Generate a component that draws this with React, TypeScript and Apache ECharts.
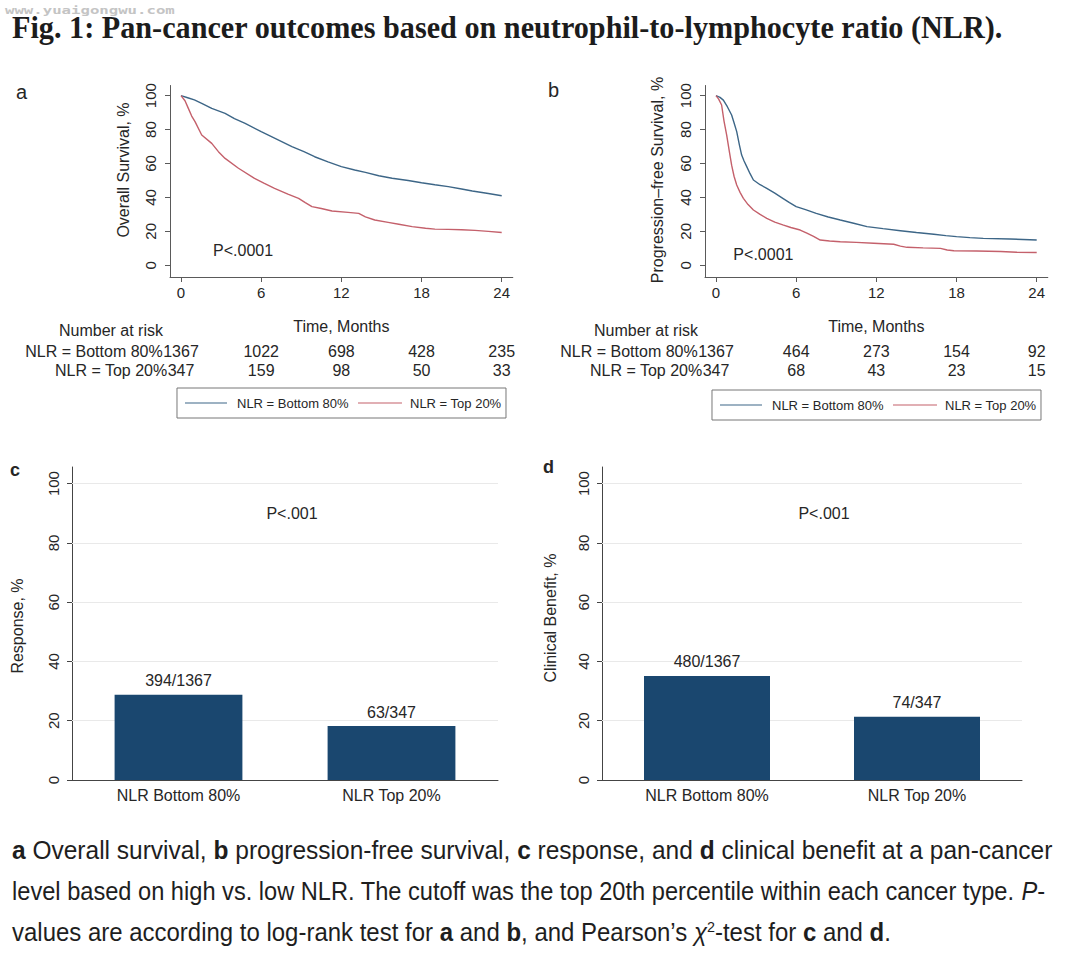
import React, { useEffect, useRef } from "react";
import * as echarts from "echarts";

// ---------------- data ----------------
const months = [0, 6, 12, 18, 24];
const pctTicks = [0, 20, 40, 60, 80, 100];

const osBottom = [[0,100],[0.5,98.8],[1.0,97.5],[1.55,95.5],[2.3,92.5],[3.3,89.6],[4.0,86.5],[4.8,83.7],[6.0,78.8],[7.0,75],[8.3,70],[9.2,67],[10.0,64],[11,61],[12.0,58.2],[13.0,56.2],[13.8,54.8],[14.8,52.8],[15.8,51.3],[17,50],[18.0,48.7],[19,47.5],[20,46.4],[21,45],[21.8,43.8],[23,42.3],[24,41]];
const osTop = [[0,100],[0.3,97],[0.55,92.5],[0.8,88],[1.05,84.7],[1.55,76.8],[2.3,71.9],[2.8,67],[3.3,63],[4.3,57.2],[5.5,51.3],[6.2,48.5],[7.0,45.4],[8,42],[8.8,39.5],[9.3,37],[9.8,34.6],[10.5,33.5],[11.3,32],[12.5,31.2],[13.3,30.6],[13.8,28.5],[14.5,26.7],[15.5,25.3],[16.3,24.2],[17.3,22.8],[18.3,21.8],[19,21.3],[20,21.2],[21,21],[22,20.6],[23,20],[24,19.3]];
const pfsBottom = [[0,100],[0.3,99],[0.55,97.4],[0.85,93.5],[1.17,88.6],[1.35,84],[1.55,78.8],[1.75,71],[1.92,65],[2.1,61.5],[2.3,58.2],[2.55,54],[2.8,50.3],[3.3,47.5],[3.8,45.4],[4.4,42.5],[5.0,39.5],[5.5,37],[6.0,34.6],[6.7,32.8],[7.5,30.6],[8.4,28.5],[9.3,26.7],[10.3,24.8],[11.3,22.8],[12.5,21.6],[13.8,20.4],[15,19.3],[16.3,18.3],[17.2,17.5],[18.0,16.9],[19,16.3],[20,15.9],[22,15.5],[24,14.9]];
const pfsTop = [[0,100],[0.2,98],[0.42,94.5],[0.6,85],[0.8,76.8],[1.0,67],[1.17,59],[1.35,52.5],[1.55,47.3],[1.8,43],[2.05,39.5],[2.4,35.8],[2.8,32.6],[3.3,30],[3.8,27.7],[4.4,25.5],[5.0,23.8],[5.6,22.3],[6.3,20.8],[6.8,19],[7.3,17],[7.8,14.9],[8.5,14.3],[9.3,13.9],[10.5,13.5],[11.8,13],[13.3,12.4],[13.8,11.3],[14.3,10.6],[15.5,10.3],[16.8,10],[17.3,9],[17.8,8.6],[19.5,8.4],[21.3,8.1],[22.5,7.7],[24,7.5]];

const riskOsBottom = [1367, 1022, 698, 428, 235];
const riskOsTop = [347, 159, 98, 50, 33];
const riskPfsBottom = [1367, 464, 273, 154, 92];
const riskPfsTop = [347, 68, 43, 23, 15];

const groupNames = ["NLR = Bottom 80%", "NLR = Top 20%"];
const barCategories = ["NLR Bottom 80%", "NLR Top 20%"];
const responseEvents = [394, 63];
const responseTotals = [1367, 347];
const responsePct = [28.8, 18.2];
const benefitEvents = [480, 74];
const benefitTotals = [1367, 347];
const benefitPct = [35.1, 21.3];

const titleText = "Fig. 1: Pan-cancer outcomes based on neutrophil-to-lymphocyte ratio (NLR).";
const captionLines = [
  ["{b|a} Overall survival, {b|b} progression-free survival, {b|c} response, and {b|d} clinical benefit at a pan-cancer",
   "a Overall survival, b progression-free survival, c response, and d clinical benefit at a pan-cancer"],
  ["level based on high vs. low NLR. The cutoff was the top 20th percentile within each cancer type. {i|P}-",
   "level based on high vs. low NLR. The cutoff was the top 20th percentile within each cancer type. P-"],
  ["values are according to log-rank test for {b|a} and {b|b}, and Pearson\u2019s {i|\u03c7}{sup|2}-test for {b|c} and {b|d}.",
   "values are according to log-rank test for a and b, and Pearson\u2019s \u03c72-test for c and d."],
];
const captionWidths = [1036, 1033, 880];

// ---------------- style ----------------
const SANS = "'Liberation Sans', Arial, Helvetica, sans-serif";
const CAPF = "'Liberation Sans Narrow', 'Liberation Sans', Arial, sans-serif";
const SERIF = "'Liberation Serif', 'DejaVu Serif', serif";
const BLUE = "#3d6687";
const RED = "#c4606b";
const NAVY = "#1a476f";
const TEXT = "#262626";
const AXIS = "#5a5a5a";

function measure(text: string, font: string): number {
  const c = document.createElement("canvas").getContext("2d");
  if (!c) return text.length * 8;
  c.font = font;
  return c.measureText(text).width;
}

function kmX(grid: number) {
  return {
    type: "value", gridIndex: grid, min: -0.823, max: 24.83,
    axisLine: { show: true, onZero: false, lineStyle: { color: AXIS, width: 1 } },
    axisTick: { show: true, customValues: months, length: 5, lineStyle: { color: AXIS } },
    axisLabel: { customValues: months, fontSize: 15, margin: 8, color: TEXT, fontFamily: SANS },
    splitLine: { show: false },
  };
}
function kmY(grid: number) {
  return {
    type: "value", gridIndex: grid, min: -6.9, max: 106,
    axisLine: { show: true, onZero: false, lineStyle: { color: AXIS, width: 1 } },
    axisTick: { show: true, customValues: pctTicks, length: 5, lineStyle: { color: AXIS } },
    axisLabel: { customValues: pctTicks, fontSize: 15, margin: 12, rotate: 90, color: TEXT, fontFamily: SANS },
    splitLine: { show: false },
  };
}
function barX(grid: number) {
  return {
    type: "category", gridIndex: grid, data: barCategories,
    axisLine: { show: true, lineStyle: { color: "#444", width: 1 } },
    axisTick: { show: false },
    axisLabel: { fontSize: 16, margin: 7, color: TEXT, fontFamily: SANS },
  };
}
function barY(grid: number) {
  return {
    type: "value", gridIndex: grid, min: 0, max: 105.6,
    axisLine: { show: true, lineStyle: { color: "#444", width: 1 } },
    axisTick: { show: true, customValues: pctTicks, length: 5, lineStyle: { color: "#444" } },
    axisLabel: { customValues: pctTicks, fontSize: 15, margin: 11, rotate: 90, color: TEXT, fontFamily: SANS },
    splitLine: { show: false },
  };
}
function kmLine(name: string, data: number[][], color: string, grid: number) {
  return {
    type: "line", name, data, xAxisIndex: grid, yAxisIndex: grid,
    showSymbol: false, symbol: "none", smooth: false,
    lineStyle: { color, width: 1.4 }, itemStyle: { color },
  };
}
function barSeries(grid: number, values: number[], ev: number[], tot: number[]) {
  return {
    type: "bar", data: values, xAxisIndex: grid, yAxisIndex: grid, barWidth: "60%", z: 2,
    itemStyle: { color: NAVY },
    label: {
      show: true, position: "top", distance: 6, fontSize: 16, color: TEXT, fontFamily: SANS,
      formatter: (p: any) => `${ev[p.dataIndex]}/${tot[p.dataIndex]}`,
    },
    markLine: {
      z: 1, silent: true, symbol: "none", label: { show: false },
      lineStyle: { color: "#e9e9e9", width: 1, type: "solid" },
      data: pctTicks.filter((v) => v > 0).map((v) => ({ yAxis: v })),
    },
  };
}

function txt(x: number, y: number, text: string, opts: any = {}) {
  const { rotation, scaleX, ...style } = opts;
  const el: any = {
    type: "text", x, y, silent: true,
    style: { text, fontSize: 16, fontFamily: SANS, fill: TEXT, align: "left", verticalAlign: "middle", ...style },
  };
  if (rotation !== undefined) el.rotation = rotation;
  if (scaleX !== undefined) el.scaleX = scaleX;
  return el;
}

export default function App() {
  const ref = useRef<HTMLDivElement>(null);
  useEffect(() => {
    if (!ref.current) return;
    const chart = echarts.init(ref.current, null, { renderer: "svg" });
    chart.setOption({
      animation: false,
      backgroundColor: "#ffffff",
      grid: [
        { left: 170, top: 85.5, width: 342.8, height: 191.5 },
        { left: 705, top: 85.5, width: 342.8, height: 191.5 },
        { left: 72, top: 467, width: 426, height: 313 },
        { left: 602, top: 467, width: 420, height: 313 },
      ],
      xAxis: [kmX(0), kmX(1), barX(2), barX(3)],
      yAxis: [kmY(0), kmY(1), barY(2), barY(3)],
      series: [
        kmLine(groupNames[0], osBottom, BLUE, 0),
        kmLine(groupNames[1], osTop, RED, 0),
        kmLine(groupNames[0], pfsBottom, BLUE, 1),
        kmLine(groupNames[1], pfsTop, RED, 1),
        barSeries(2, responsePct, responseEvents, responseTotals),
        barSeries(3, benefitPct, benefitEvents, benefitTotals),
      ],
    });

    const g: any[] = [];
    // watermark
    const wmFont = `bold 11px 'DejaVu Sans Mono', monospace`;
    const wm = "www.yuaigongwu.com";
    g.push(txt(5, 10, wm, { fontSize: 11, fontWeight: "bold", fontFamily: "'DejaVu Sans Mono', monospace", fill: "#c4c4c4", scaleX: 170 / measure(wm, wmFont) }));
    // title
    const tFont = `bold 32px ${SERIF}`;
    g.push(txt(12, 27, titleText, { fontSize: 32, fontWeight: "bold", fontFamily: SERIF, fill: "#1c1c1c", scaleX: 991 / measure(titleText, tFont) }));

    // panel letters
    g.push(txt(16, 92, "a", { fontSize: 20 }));
    g.push(txt(548, 90, "b", { fontSize: 20 }));
    g.push(txt(10, 470, "c", { fontSize: 18, fontWeight: "bold" }));
    g.push(txt(543, 467, "d", { fontSize: 18, fontWeight: "bold" }));

    // y axis titles
    g.push(txt(123, 170, "Overall Survival, %", { fontSize: 16, align: "center", rotation: Math.PI / 2 }));
    g.push(txt(657, 180, "Progression\u2013free Survival, %", { fontSize: 16, align: "center", rotation: Math.PI / 2 }));
    g.push(txt(17, 626, "Response, %", { fontSize: 16, align: "center", rotation: Math.PI / 2 }));
    g.push(txt(550, 618, "Clinical Benefit, %", { fontSize: 16, align: "center", rotation: Math.PI / 2 }));

    // p values
    const pa = chart.convertToPixel({ gridIndex: 0 } as any, [2.4, 8.5]) as number[];
    g.push(txt(pa[0], pa[1], "P<.0001", { fontSize: 16 }));
    const pb = chart.convertToPixel({ gridIndex: 1 } as any, [1.3, 6.5]) as number[];
    g.push(txt(pb[0], pb[1], "P<.0001", { fontSize: 16 }));
    [[2, 7], [3, 12]].forEach(([gi, dx]) => {
      const c0 = chart.convertToPixel({ gridIndex: gi } as any, [0, 90]) as number[];
      const c1 = chart.convertToPixel({ gridIndex: gi } as any, [1, 90]) as number[];
      g.push(txt((c0[0] + c1[0]) / 2 + dx, c0[1], "P<.001", { fontSize: 16, align: "center" }));
    });

    // risk tables
    const riskFont = `16px ${SANS}`;
    const tables = [
      { grid: 0, rows: [riskOsBottom, riskOsTop], legendY: 388 },
      { grid: 1, rows: [riskPfsBottom, riskPfsTop], legendY: 390 },
    ];
    const rowY = [351, 370];
    tables.forEach((tb) => {
      const x0 = (chart.convertToPixel({ gridIndex: tb.grid } as any, [0, 0]) as number[])[0];
      const x12 = (chart.convertToPixel({ gridIndex: tb.grid } as any, [12, 0]) as number[])[0];
      g.push(txt(x0 - 70, 330, "Number at risk", { fontSize: 16, align: "center" }));
      g.push(txt(x12, 326, "Time, Months", { fontSize: 16, align: "center" }));
      tb.rows.forEach((row, ri) => {
        const half = measure(String(row[0]), riskFont) / 2;
        g.push(txt(x0 - half - 0.5, rowY[ri], groupNames[ri], { fontSize: 16, align: "right" }));
        row.forEach((n, ti) => {
          const px = (chart.convertToPixel({ gridIndex: tb.grid } as any, [months[ti], 0]) as number[])[0];
          g.push(txt(px, rowY[ri], String(n), { fontSize: 16, align: "center" }));
        });
      });
      // legend box
      const bx = x0 - 4;
      const by = tb.legendY;
      g.push({ type: "rect", silent: true, shape: { x: bx, y: by, width: 329, height: 30 }, style: { fill: "#fff", stroke: "#777", lineWidth: 1 } });
      g.push({ type: "line", silent: true, shape: { x1: bx + 8, y1: by + 15, x2: bx + 50, y2: by + 15 }, style: { stroke: BLUE, lineWidth: 1.2 } });
      g.push(txt(bx + 60, by + 15, groupNames[0], { fontSize: 13 }));
      g.push({ type: "line", silent: true, shape: { x1: bx + 181, y1: by + 15, x2: bx + 225, y2: by + 15 }, style: { stroke: RED, lineWidth: 1.2 } });
      g.push(txt(bx + 233, by + 15, groupNames[1], { fontSize: 13 }));
    });

    // caption
    const capSize = 25;
    const capFont = `${capSize}px ${CAPF}`;
    const capY = [850, 891, 932];
    captionLines.forEach((ln, i) => {
      const sc = captionWidths[i] / measure(ln[1], capFont);
      g.push({
        type: "text", x: 12, y: capY[i], scaleX: sc, silent: true,
        style: {
          text: ln[0], fontSize: capSize, fontFamily: CAPF, fill: "#1e1e1e", align: "left", verticalAlign: "middle",
          rich: {
            b: { fontSize: capSize, fontFamily: CAPF, fontWeight: "bold", fill: "#1e1e1e" },
            i: { fontSize: capSize, fontFamily: CAPF, fontStyle: "italic", fill: "#1e1e1e" },
            sup: { fontSize: 15, fontFamily: CAPF, fill: "#1e1e1e", verticalAlign: "top", padding: [0, 0, 10, 0] },
          },
        },
      });
    });

    chart.setOption({ graphic: g });
    return () => chart.dispose();
  }, []);
  return <div ref={ref} style={{ position: "absolute", left: 0, top: 0, width: 1080, height: 966 }} />;
}
